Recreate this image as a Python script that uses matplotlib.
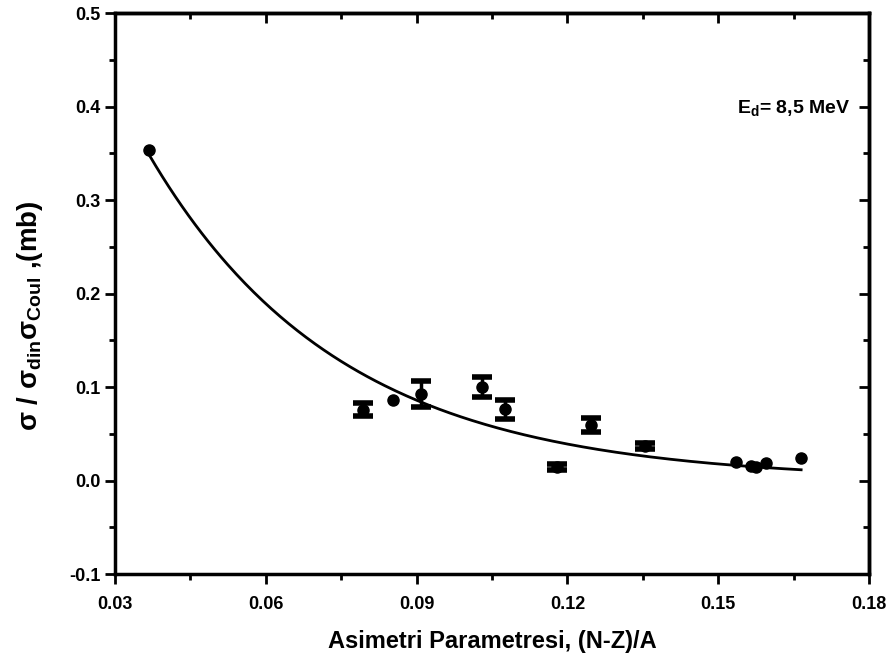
import numpy as np
import matplotlib
matplotlib.use("Agg")
import matplotlib.pyplot as plt
from matplotlib.ticker import MultipleLocator, FormatStrFormatter

plt.rcParams['font.family'] = ['Liberation Sans', 'DejaVu Sans']
plt.rcParams['font.weight'] = 'bold'
plt.rcParams['mathtext.fontset'] = 'custom'
plt.rcParams['mathtext.rm'] = 'Liberation Sans:bold'
plt.rcParams['mathtext.bf'] = 'Liberation Sans:bold'
plt.rcParams['mathtext.it'] = 'Liberation Sans:bold'

# olcum noktalari
asim = [0.0368, 0.0793, 0.0854, 0.0908, 0.1031, 0.1075, 0.1180,
        0.1246, 0.1355, 0.1536, 0.1565, 0.1575, 0.1595, 0.1665]
oran = [0.354, 0.0755, 0.086, 0.0925, 0.1003, 0.076, 0.0144,
        0.0594, 0.037, 0.0198, 0.0155, 0.0144, 0.0187, 0.024]
hata = [0.0, 0.007, 0.0, 0.0135, 0.0105, 0.0105, 0.003,
        0.007, 0.003, 0.0, 0.0, 0.0, 0.0, 0.0]

# ustel fit parametreleri: y = A * exp(-x / t)
fit_A = 0.917
fit_t = 0.038
fit_x_min, fit_x_max = 0.0368, 0.1665

x = np.array(asim)
y = np.array(oran)
e = np.array(hata)
hatali = e > 0

fig = plt.figure(figsize=(8.89, 6.6), dpi=100)
ax = fig.add_axes([0.1294, 0.1303, 0.8481, 0.85])

ax.errorbar(x[hatali], y[hatali], yerr=e[hatali], fmt='o', color='black', ms=8,
            elinewidth=2.5, capsize=7, capthick=4)
ax.plot(x[~hatali], y[~hatali], 'o', color='black', ms=8)

xf = np.linspace(fit_x_min, fit_x_max, 300)
ax.plot(xf, fit_A * np.exp(-xf / fit_t), color='black', lw=2)

ax.set_xlim(0.03, 0.18)
ax.set_ylim(-0.1, 0.5)
ax.xaxis.set_major_locator(MultipleLocator(0.03))
ax.xaxis.set_minor_locator(MultipleLocator(0.015))
ax.yaxis.set_major_locator(MultipleLocator(0.1))
ax.yaxis.set_minor_locator(MultipleLocator(0.05))
ax.xaxis.set_major_formatter(FormatStrFormatter('%.2f'))
ax.yaxis.set_major_formatter(FormatStrFormatter('%.1f'))

ax.tick_params(which='both', direction='out', width=2, labelsize=13)
ax.tick_params(which='major', length=7)
ax.tick_params(which='minor', length=4)
ax.tick_params(axis='x', which='major', pad=9)
for s in ax.spines.values():
    s.set_linewidth(2.5)

# ust ve sag eksen: iceri bakan tikler
sec_x = ax.secondary_xaxis('top')
sec_x.xaxis.set_major_locator(MultipleLocator(0.03))
sec_x.xaxis.set_minor_locator(MultipleLocator(0.015))
sec_x.tick_params(which='both', direction='in', width=2, labeltop=False)
sec_x.tick_params(which='major', length=7)
sec_x.tick_params(which='minor', length=4)
sec_x.spines['top'].set_linewidth(2.5)
sec_y = ax.secondary_yaxis('right')
sec_y.yaxis.set_major_locator(MultipleLocator(0.1))
sec_y.yaxis.set_minor_locator(MultipleLocator(0.05))
sec_y.tick_params(which='both', direction='in', width=2, labelright=False)
sec_y.tick_params(which='major', length=7)
sec_y.tick_params(which='minor', length=4)
sec_y.spines['right'].set_linewidth(2.5)

ax.set_xlabel('Asimetri Parametresi, (N-Z)/A', fontsize=17, fontweight='bold', labelpad=12)
ax.set_ylabel(r'σ / σ$_{din}$σ$_{Coul}$ ,(mb)', fontsize=20, fontweight='bold')
ax.yaxis.set_label_coords(-0.093, 0.46)

ax.text(0.1538, 0.393, r'E$_{d}$= 8,5 MeV', fontsize=14, fontweight='bold')

fig.savefig('out.png', dpi=100)
